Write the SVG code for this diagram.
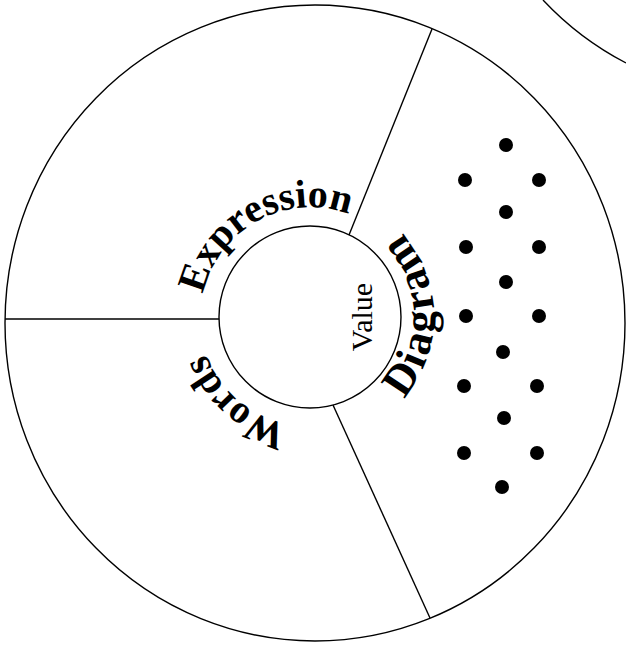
<svg xmlns="http://www.w3.org/2000/svg" width="626" height="646" viewBox="0 0 626 646">
<style>
.ln{fill:none;stroke:#000;stroke-width:1.4}
.lbl{font-family:"Liberation Serif","Times New Roman",serif;font-weight:bold;fill:#000}
.val{font-family:"Liberation Serif","Times New Roman",serif;fill:#000}
.dot{fill:#000}
</style>
<defs>
<path id="pExpr" d="M202,300 A110,110 0 0 1 356.5,217.3"/>
<path id="pWords" d="M291.3,425.3 A110,110 0 0 1 203.7,345.5"/>
<path id="pDiag" d="M402.2,400 A124,124 0 0 0 389.7,222"/>
</defs>
<rect width="626" height="646" fill="#fff"/>
<g id="outer"><ellipse class="ln" cx="315" cy="323" rx="310" ry="318" stroke-width="1.6"/></g>
<g id="neighbor"><path class="ln" d="M543,0 A310,310 0 0 0 626,63" stroke-width="1.6"/></g>
<g id="connectors">
<line class="ln" x1="5" y1="319" x2="219" y2="319"/>
<line class="ln" x1="432" y1="29" x2="349" y2="235"/>
<line class="ln" x1="333" y1="405" x2="430" y2="618"/>
</g>
<g id="value"><circle class="ln" cx="310" cy="317" r="91" stroke-width="1.3"/>
<text class="val" font-size="30" text-anchor="middle" transform="translate(372,317) rotate(-90)">Value</text></g>
<g id="expression"><text class="lbl" font-size="40"><textPath href="#pExpr" startOffset="6">Expression</textPath></text></g>
<g id="words"><text class="lbl" font-size="40"><textPath href="#pWords" startOffset="3">Words</textPath></text></g>
<g id="diagram"><text class="lbl" font-size="44"><textPath href="#pDiag" startOffset="2" textLength="180" lengthAdjust="spacing">Diagram</textPath></text>
<g class="dot">
<circle cx="506" cy="145" r="7"/><circle cx="506" cy="212" r="7"/><circle cx="506" cy="282" r="7"/><circle cx="503" cy="352" r="7"/><circle cx="504" cy="418" r="7"/><circle cx="502" cy="487" r="7"/>
<circle cx="465" cy="180" r="7"/><circle cx="466" cy="247" r="7"/><circle cx="466" cy="316" r="7"/><circle cx="464" cy="386" r="7"/><circle cx="464" cy="453" r="7"/>
<circle cx="539" cy="180" r="7"/><circle cx="539" cy="247" r="7"/><circle cx="539" cy="316" r="7"/><circle cx="537" cy="386" r="7"/><circle cx="537" cy="453" r="7"/>
</g></g>
</svg>
